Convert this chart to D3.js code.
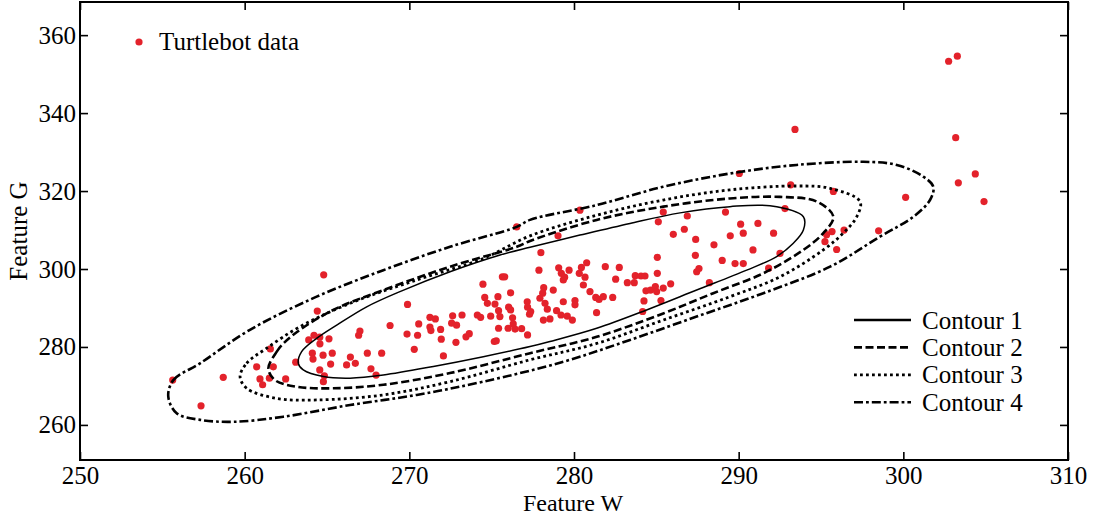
<!DOCTYPE html>
<html>
<head>
<meta charset="utf-8">
<script src="https://cdn.jsdelivr.net/npm/d3@7"></script>
<style>
  html, body { margin: 0; padding: 0; background: #ffffff; }
  svg { display: block; }
  text { font-family: "Liberation Serif", "Times New Roman", serif; fill: #000; }
</style>
</head>
<body>
<svg id="chart" width="1098" height="517"></svg>
<script>
// ---------------- data ----------------
const xTicks = [250, 260, 270, 280, 290, 300, 310];
const yTicks = [260, 280, 300, 320, 340, 360];
const xDomain = [250, 310];
const yDomain = [251, 368.5];
const xTitle = "Feature W";
const yTitle = "Feature G";
const scatterLabel = "Turtlebot data";
const contourLabels = ["Contour 1", "Contour 2", "Contour 3", "Contour 4"];

// Turtlebot data points [Feature W, Feature G]
const turtlebotPoints = [
  [264.80,298.5],[264.41,289.2],[255.63,271.5],[258.70,272.2],[257.35,264.9],[261.56,279.5],
  [260.73,274.9],[261.74,274.9],[260.93,271.8],[261.50,272.0],[261.09,270.3],[262.49,271.8],
  [263.10,276.1],[263.89,281.8],[264.21,283.0],[264.56,282.5],[265.12,282.1],[264.57,280.8],
  [264.11,278.4],[264.15,276.9],[264.76,277.9],[265.32,278.4],[265.22,275.6],[264.56,274.1],
  [264.84,272.6],[264.78,271.1],[266.42,277.4],[266.19,275.4],[266.72,275.8],[267.00,284.1],
  [266.92,283.0],[267.45,278.4],[267.67,274.4],[267.98,272.8],[268.32,278.4],[268.83,285.5],
  [276.52,310.8],[269.89,290.9],[270.57,285.9],[271.25,287.6],[271.58,287.2],[271.25,285.1],
  [271.31,284.2],[271.90,284.5],[269.86,283.3],[270.50,283.0],[270.30,279.4],[271.94,282.0],
  [272.07,277.7],[272.63,288.0],[273.20,288.2],[272.57,286.1],[272.87,285.6],[272.83,281.2],
  [273.44,282.6],[273.64,283.4],[274.13,288.2],[274.33,287.6],[274.47,296.1],[274.58,292.7],
  [274.74,291.2],[274.94,287.9],[275.16,281.4],[275.28,281.6],[275.20,291.0],[275.38,292.9],
  [275.42,289.3],[275.50,287.8],[275.42,284.8],[275.65,298.0],[275.79,298.0],[276.15,293.9],
  [276.03,290.2],[276.15,289.5],[276.27,287.5],[276.00,284.8],[276.31,285.9],[276.42,284.6],
  [276.82,284.7],[277.16,291.6],[277.18,290.2],[277.30,288.4],[277.18,283.1],
  [280.36,315.1],[285.42,314.6],[279.03,308.5],[286.88,313.6],[285.12,312.1],[286.03,308.9],
  [286.70,310.2],[287.39,307.6],[287.37,303.5],[287.45,299.3],[285.06,303.0],[285.06,298.9],
  [277.99,304.2],[277.87,299.7],[279.07,300.3],[279.23,298.9],[279.35,297.2],[279.43,297.9],
  [279.70,299.7],[280.45,300.4],[280.77,301.6],[280.32,298.9],[280.67,297.9],[281.90,300.6],
  [282.75,300.4],[282.53,297.4],[280.57,295.9],[280.97,294.2],[281.32,292.7],[281.52,292.2],
  [281.78,292.9],[282.35,292.7],[283.24,296.5],[283.72,298.3],[284.07,298.2],[284.31,298.2],
  [283.66,296.5],[284.37,294.4],[284.65,294.6],[284.94,295.5],[285.02,294.2],[285.42,295.1],
  [285.87,296.2],[285.28,291.9],[284.25,291.8],[284.17,289.1],[278.16,295.2],[278.10,293.8],
  [278.74,294.6],[277.93,292.5],[278.24,291.2],[278.38,289.7],[279.35,291.6],[280.06,291.9],
  [280.06,290.8],[278.94,289.3],[279.21,288.2],[279.59,287.9],[279.90,286.9],[278.14,286.9],
  [278.54,287.2],[281.37,288.8],[277.37,289.1],
  [290.04,324.5],[293.16,321.6],[295.75,319.9],[292.81,315.5],[289.20,314.6],[290.12,311.5],
  [291.17,311.7],[290.28,309.2],[289.49,308.5],[292.12,309.2],[288.50,306.2],[290.87,304.9],
  [289.00,302.2],[289.78,301.4],[290.28,301.4],[287.59,300.1],[288.22,296.5],[292.51,304.0],
  [291.82,300.2],[295.34,308.8],[295.67,309.6],[296.40,310.0],[295.24,307.0],[295.95,305.0],
  [302.75,353.3],[303.28,354.6],[303.18,333.7],[304.37,324.4],[303.34,322.1],[304.90,317.3],
  [300.14,318.4],[298.50,309.8],[293.42,335.8]
];

// Contour outlines [Feature W, Feature G]
const contour1 = [
  [263.26,275.8],[263.46,278.8],[264.37,282.2],[265.59,285.6],[267.41,290.3],[269.43,294.2],
  [272.47,299.3],[275.51,303.6],[277.33,305.6],[280.36,308.7],[283.40,311.7],[286.44,314.4],
  [289.47,316.0],[291.90,316.2],[293.93,313.4],[293.93,310.0],[293.32,306.6],[292.31,303.2],
  [290.49,299.7],[287.45,294.6],[284.41,289.5],[281.38,284.8],[278.54,281.4],[277.33,280.1],
  [274.49,277.5],[271.46,275.0],[268.42,272.8],[266.40,272.0],[264.78,272.4],[263.56,274.1]
];
const contour2 = [
  [261.44,274.5],[261.95,278.8],[262.35,280.9],[263.36,284.4],[265.38,289.5],[268.42,294.6],
  [272.47,300.6],[276.52,305.7],[277.33,307.2],[281.38,312.6],[285.42,316.0],[289.47,318.1],
  [292.51,318.5],[294.74,317.3],[295.75,313.4],[295.14,309.2],[293.93,304.9],[291.50,298.9],
  [288.46,293.8],[285.42,288.6],[281.38,282.6],[277.33,278.4],[272.47,273.3],[268.42,270.3],
  [265.38,269.4],[263.16,269.8],[261.84,271.5]
];
const contour3 = [
  [259.72,272.4],[260.12,275.8],[261.34,279.7],[263.36,285.2],[266.40,291.2],[270.45,297.2],
  [274.49,302.7],[277.33,308.5],[281.38,313.8],[285.42,317.7],[289.47,320.3],[293.52,321.3],
  [295.55,320.7],[297.37,317.3],[297.17,313.4],[296.35,309.2],[295.14,304.9],[292.51,298.0],
  [289.47,292.9],[285.42,286.9],[281.38,280.9],[277.33,276.7],[272.47,271.1],[268.42,267.7],
  [264.37,266.4],[261.95,266.8],[260.12,269.4]
];
const contour4 = [
  [255.36,267.3],[255.67,271.5],[257.29,275.8],[260.32,284.4],[264.37,292.9],[268.42,299.7],
  [272.47,305.7],[276.52,310.8],[277.33,312.6],[281.38,316.4],[285.42,321.1],[289.47,324.5],
  [293.52,326.7],[297.57,327.5],[299.60,326.7],[301.21,323.7],[301.82,321.1],[301.62,317.7],
  [300.61,313.4],[298.58,308.3],[295.55,300.6],[291.50,293.8],[287.45,287.8],[283.40,281.8],
  [279.35,276.2],[274.49,271.1],[270.45,267.7],[266.40,265.1],[262.35,262.1],[259.31,260.8],
  [257.29,261.3],[255.87,263.0]
];
const contours = [contour1, contour2, contour3, contour4];

// ---------------- styles ----------------
const pointColor = "#e3222b";
const contourStyles = [
  { width: 1.5, dash: null,          legendWidth: 2.6 },
  { width: 2.6, dash: "8,3.5",       legendWidth: 2.6 },
  { width: 2.8, dash: "2.8,3.2",     legendWidth: 2.8 },
  { width: 2.6, dash: "9,3,2.8,3",   legendWidth: 2.6 }
];

// ---------------- layout ----------------
const margin = { left: 80, right: 30, top: 2, bottom: 57 };
const W = 1098, H = 517;
const plotW = W - margin.left - margin.right;   // 988
const plotH = H - margin.top - margin.bottom;   // 458

const svg = d3.select("#chart");
const x = d3.scaleLinear().domain(xDomain).range([0, plotW]);
const y = d3.scaleLinear().domain(yDomain).range([plotH, 0]);

const g = svg.append("g").attr("transform", `translate(${margin.left},${margin.top})`);

svg.append("defs").append("clipPath").attr("id", "clip")
  .append("rect").attr("width", plotW).attr("height", plotH);

// data points
const plot = g.append("g").attr("clip-path", "url(#clip)");
plot.selectAll("circle.pt").data(turtlebotPoints).join("circle")
  .attr("class", "pt")
  .attr("cx", d => x(d[0])).attr("cy", d => y(d[1]))
  .attr("r", 3.6).attr("fill", pointColor);

// contours
const line = d3.line().x(d => x(d[0])).y(d => y(d[1])).curve(d3.curveCatmullRomClosed.alpha(0.5));
plot.selectAll("path.contour").data(contours).join("path")
  .attr("class", "contour")
  .attr("d", line)
  .attr("fill", "none").attr("stroke", "#000")
  .attr("stroke-width", (d, i) => contourStyles[i].width)
  .attr("stroke-dasharray", (d, i) => contourStyles[i].dash);

// axes
const fs = 25;
const bottomAxis = d3.axisBottom(x).tickValues(xTicks).tickSize(-8).tickSizeOuter(0).tickPadding(6).tickFormat(d3.format("d"));
const leftAxis = d3.axisLeft(y).tickValues(yTicks).tickSize(-8).tickSizeOuter(0).tickPadding(4).tickFormat(d3.format("d"));
const topAxis = d3.axisTop(x).tickValues(xTicks).tickSize(-8).tickSizeOuter(0).tickFormat("");
const rightAxis = d3.axisRight(y).tickValues(yTicks).tickSize(-8).tickSizeOuter(0).tickFormat("");

function styleAxis(sel) {
  sel.select(".domain").remove();
  sel.selectAll(".tick line").attr("stroke", "#000").attr("stroke-width", 1.6);
  sel.selectAll(".tick text").attr("font-size", fs).attr("font-family", '"Liberation Serif", "Times New Roman", serif').attr("fill", "#000");
}
g.append("g").attr("transform", `translate(0,${plotH})`).call(bottomAxis).call(styleAxis);
g.append("g").call(leftAxis).call(styleAxis);
g.append("g").call(topAxis).call(styleAxis);
g.append("g").attr("transform", `translate(${plotW},0)`).call(rightAxis).call(styleAxis);

// frame
g.append("rect").attr("width", plotW).attr("height", plotH)
  .attr("fill", "none").attr("stroke", "#000").attr("stroke-width", 2);

// axis titles
g.append("text").attr("x", plotW / 2 - 1).attr("y", plotH + 51)
  .attr("text-anchor", "middle").attr("font-size", 24).text(xTitle);
svg.append("text").attr("transform", `translate(27,${margin.top + plotH / 2}) rotate(-90)`)
  .attr("text-anchor", "middle").attr("font-size", 25).text(yTitle);

// legend: scatter
g.append("circle").attr("cx", 59).attr("cy", 40).attr("r", 3.6).attr("fill", pointColor);
g.append("text").attr("x", 79).attr("y", 48).attr("font-size", 25).text(scatterLabel);

// legend: contours
const lg = g.append("g").attr("transform", `translate(774,318)`);
contourLabels.forEach((lab, i) => {
  const row = lg.append("g").attr("transform", `translate(0,${i * 27.4})`);
  row.append("line").attr("x1", 0).attr("x2", 57).attr("y1", 0).attr("y2", 0)
    .attr("stroke", "#000").attr("stroke-width", contourStyles[i].legendWidth)
    .attr("stroke-dasharray", contourStyles[i].dash);
  row.append("text").attr("x", 68).attr("y", 8.5).attr("font-size", 25).text(lab);
});
</script>
</body>
</html>
